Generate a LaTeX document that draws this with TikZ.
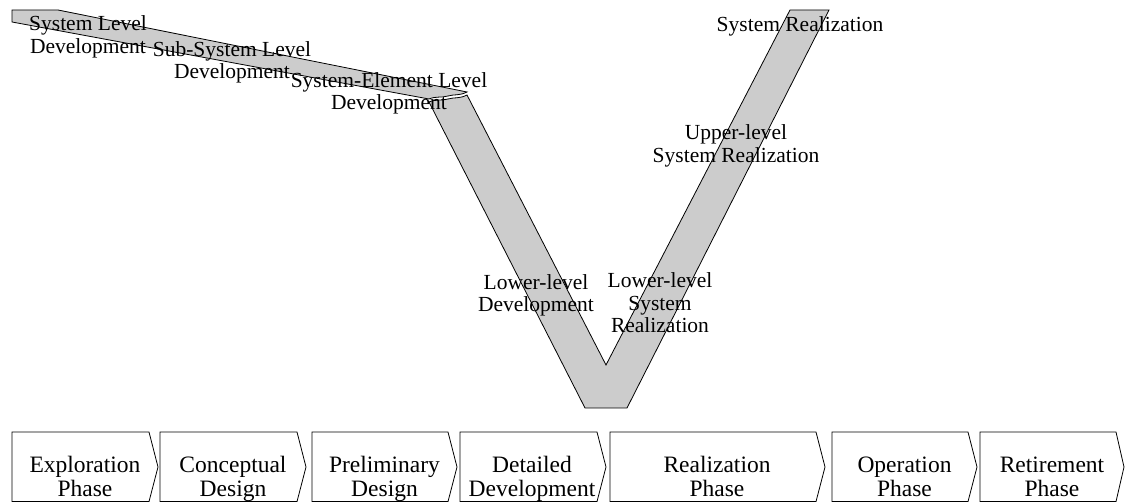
\documentclass[tikz,border=0pt]{standalone}
\usepackage{fontspec}
\setmainfont{Liberation Serif}
\definecolor{bandgray}{RGB}{204,204,204}
\begin{document}
\begin{tikzpicture}[x=1pt,y=-1pt,
  band/.style={fill=bandgray,draw=black,line width=0.8pt,line join=miter},
  lbl/.style={font=\fontsize{21.5}{22.5}\selectfont,align=center,inner sep=0pt},
  plbl/.style={font=\fontsize{23.5}{22}\selectfont,align=center,inner sep=0pt},
  phasebox/.style={draw=black,line width=0.8pt,fill=white}]
\useasboundingbox (0,0) rectangle (1125,502);
% upper sloping band
\draw[band] (12,10) -- (58,10) -- (467,92)
  .. controls (459,96) and (455,94) .. (448,96)
  .. controls (441,98) and (436,96) .. (429,99) -- (12,22) -- cycle;
% V band
\draw[band] (429,102) .. controls (436,99) and (441,101) .. (448,99)
  .. controls (455,97) and (459,99) .. (467,95)
  -- (606,365) -- (790,10) -- (829,10) -- (627,408) -- (585,408) -- cycle;
% labels on the V
\node[lbl] (sl)  at (88,37.5)   {\strut System Level\\\strut Development};
\node[lbl] (ssl) at (232,63)    {\strut Sub-System Level\\\strut Development};
\node[lbl] (sel) at (389,94)    {\strut System-Element Level\\\strut Development};
\node[lbl] (lld) at (536,296)   {\strut Lower-level\\\strut Development};
\node[lbl] (llr) at (660,306)   {\strut Lower-level\\\strut System\\\strut Realization};
\node[lbl] (ulr) at (736,146.5) {\strut Upper-level\\\strut System Realization};
\node[lbl] (sr)  at (800,27.5)  {\strut System Realization};
% phase boxes
\draw[phasebox] (12,432) -- (149,432) -- (158,467) -- (149,501.6) -- (12,501.6) -- cycle;
\draw[phasebox] (160,432) -- (297,432) -- (306,467) -- (297,501.6) -- (160,501.6) -- cycle;
\draw[phasebox] (312,432) -- (448,432) -- (457,467) -- (448,501.6) -- (312,501.6) -- cycle;
\draw[phasebox] (460,432) -- (597,432) -- (606,467) -- (597,501.6) -- (460,501.6) -- cycle;
\draw[phasebox] (610,432) -- (816,432) -- (825,467) -- (816,501.6) -- (610,501.6) -- cycle;
\draw[phasebox] (832,432) -- (968,432) -- (977,467) -- (968,501.6) -- (832,501.6) -- cycle;
\draw[phasebox] (980,432) -- (1116,432) -- (1124,467) -- (1116,501.6) -- (980,501.6) -- cycle;
\node[plbl] (p1) at (85,479.6)   {\strut Exploration\\\strut Phase};
\node[plbl] (p2) at (233,479.6)  {\strut Conceptual\\\strut Design};
\node[plbl] (p3) at (384.5,479.6){\strut Preliminary\\\strut Design};
\node[plbl] (p4) at (532,479.6)  {\strut Detailed\\\strut Development};
\node[plbl] (p5) at (717,479.6)  {\strut Realization\\\strut Phase};
\node[plbl] (p6) at (904.5,479.6){\strut Operation\\\strut Phase};
\node[plbl] (p7) at (1052,479.6) {\strut Retirement\\\strut Phase};
\end{tikzpicture}
\end{document}
